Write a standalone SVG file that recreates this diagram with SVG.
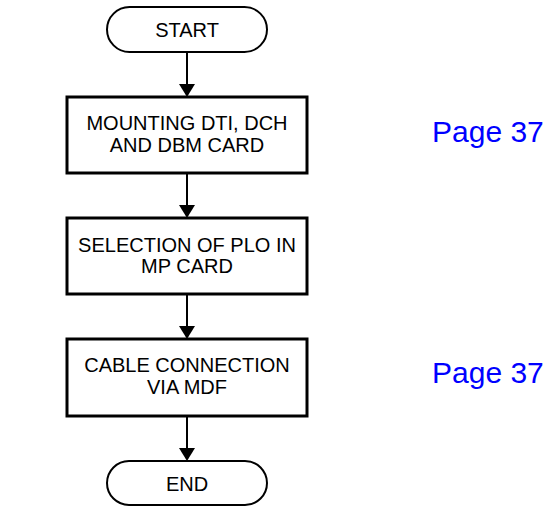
<svg xmlns="http://www.w3.org/2000/svg" width="551" height="507" viewBox="0 0 551 507">
<defs>
<style>
.term{fill:#fff;stroke:#000;stroke-width:2}
.box{fill:#fff;stroke:#000;stroke-width:3}
.t{font-family:"Liberation Sans",Arial,sans-serif;font-size:20px;fill:#000;text-anchor:middle}
.pg{font-family:"Liberation Sans",Arial,sans-serif;font-size:30px;fill:#0000ff}
.conn{stroke:#000;stroke-width:2;fill:none}
.head{fill:#000}
</style>
</defs>
<g id="start"><rect class="term" x="107" y="7" width="160" height="45" rx="22.5"/><text class="t" x="187" y="37">START</text></g>
<g id="n1"><rect class="box" x="67" y="97" width="240" height="76"/><text class="t" x="187" y="130">MOUNTING DTI, DCH</text><text class="t" x="187" y="152">AND DBM CARD</text></g>
<g id="n2"><rect class="box" x="67" y="218" width="240" height="76"/><text class="t" x="187" y="252">SELECTION OF PLO IN</text><text class="t" x="187" y="273">MP CARD</text></g>
<g id="n3"><rect class="box" x="67" y="339" width="240" height="77"/><text class="t" x="187" y="372">CABLE CONNECTION</text><text class="t" x="187" y="394">VIA MDF</text></g>
<g id="end"><rect class="term" x="107" y="461" width="160" height="44" rx="22"/><text class="t" x="187" y="491">END</text></g>
<g id="p1"><text class="pg" x="432" y="142">Page 37</text></g>
<g id="p2"><text class="pg" x="432" y="383">Page 37</text></g>
<g id="connectors">
<line class="conn" x1="187" y1="52" x2="187" y2="84"/><path class="head" d="M179,84 L195,84 L187,97 Z"/>
<line class="conn" x1="187" y1="173" x2="187" y2="205"/><path class="head" d="M179,205 L195,205 L187,218 Z"/>
<line class="conn" x1="187" y1="294" x2="187" y2="326"/><path class="head" d="M179,326 L195,326 L187,339 Z"/>
<line class="conn" x1="187" y1="416" x2="187" y2="448"/><path class="head" d="M179,448 L195,448 L187,461 Z"/>
</g>
</svg>
